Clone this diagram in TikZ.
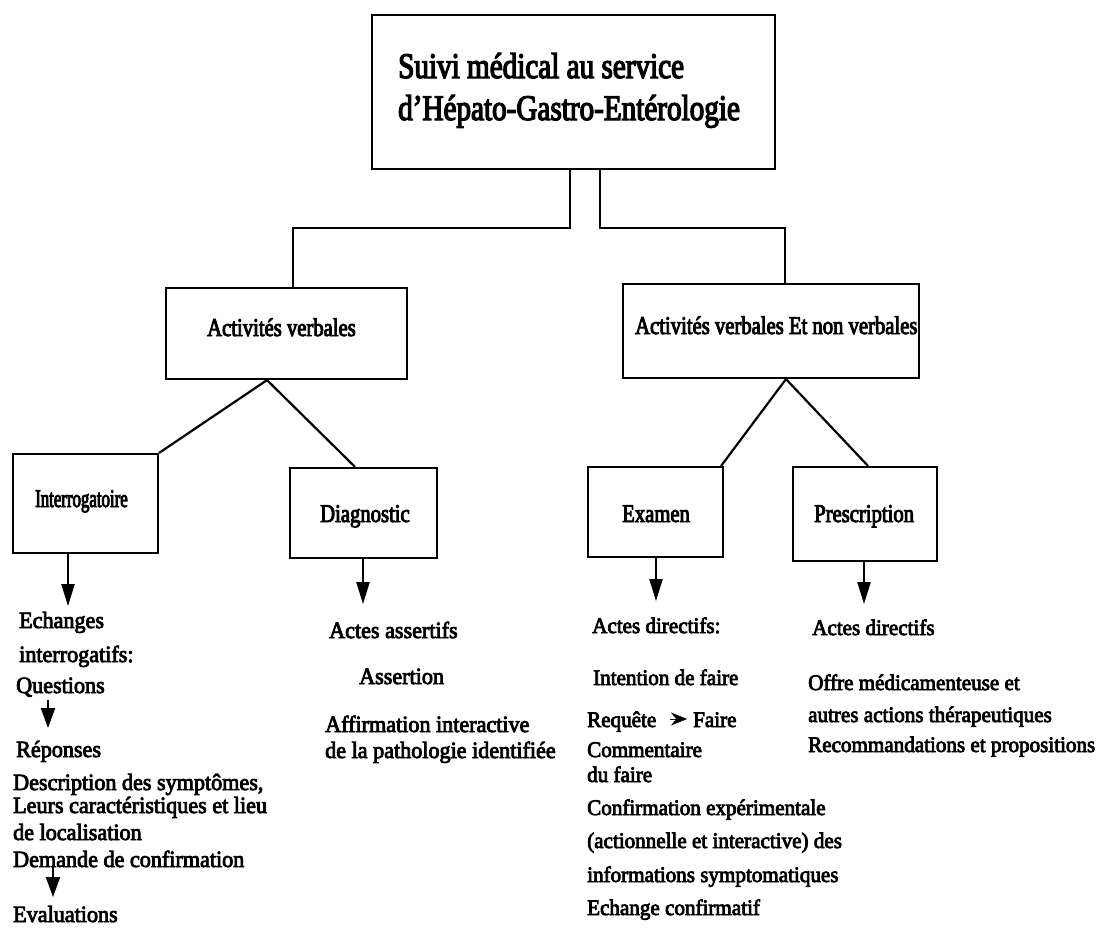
\documentclass[tikz,border=0pt]{standalone}
\usepackage{fontspec}
\setmainfont{Liberation Serif}
\newfontfamily\bodyfont[FakeStretch=0.95,FakeBold=3.5]{Liberation Serif}
\newfontfamily\boxfont[FakeStretch=0.81,FakeBold=3.5]{Liberation Serif}
\newfontfamily\tightfont[FakeStretch=0.66,FakeBold=3.5]{Liberation Serif}
\usetikzlibrary{arrows.meta,calc}

\begin{document}
\begin{tikzpicture}[x=1pt,y=-1pt,
  box/.style={draw, line width=2.2pt, inner sep=0pt},
  txt/.style={anchor=base west, inner sep=0pt, font=\bodyfont\fontsize{23.3}{27}\selectfont},
  txtr/.style={txt, font=\bodyfont\fontsize{22.2}{26}\selectfont},
  boxlabel/.style={anchor=base west, inner sep=0pt, font=\boxfont\fontsize{25.5}{30}\selectfont},
  titletext/.style={anchor=base west, inner sep=0pt, font=\boxfont\fontsize{36}{42}\selectfont},
  link/.style={line width=2.2pt},
  down/.style={line width=2.2pt, -{Triangle[width=13pt,length=22pt]}},
  smalldown/.style={line width=2.2pt, -{Triangle[width=14pt,length=20pt]}}]
\useasboundingbox (0,0) rectangle (1112,929);

% ---- boxes ----
\node[box, minimum width=403pt, minimum height=154pt] (root)  at (573.5,92)  {};
\node[box, minimum width=241pt, minimum height=91pt]  (av)    at (286.5,333.5) {};
\node[box, minimum width=296pt, minimum height=94pt]  (avnv)  at (771,331)   {};
\node[box, minimum width=145pt, minimum height=99pt]  (interr) at (85.5,503.5) {};
\node[box, minimum width=147pt, minimum height=90pt]  (diag)  at (363.5,513) {};
\node[box, minimum width=135pt, minimum height=90pt]  (exam)  at (655.5,512) {};
\node[box, minimum width=144pt, minimum height=94pt]  (presc) at (865,514)   {};

% ---- box labels ----
\node[titletext] (t1) at (398,78)  {Suivi médical au service};
\node[titletext] (t2) at (398,120) {d’Hépato-Gastro-Entérologie};
\node[boxlabel] (avl)   at (207,336) {Activités verbales};
\node[boxlabel] (avnvl) at (635,334) {Activités verbales Et non verbales};
\node[boxlabel, font=\tightfont\fontsize{25.5}{30}\selectfont] (interrl) at (35,507) {Interrogatoire};
\node[boxlabel] (diagl)  at (320,522) {Diagnostic};
\node[boxlabel] (examl)  at (622,522) {Examen};
\node[boxlabel] (prescl) at (814,522) {Prescription};

% ---- tree connectors ----
\draw[link] ([xshift=-3.5pt]root.south) -- ++(0,58) -| ([xshift=6.5pt]av.north);
\draw[link] ([xshift=26.5pt]root.south) -- ++(0,58) -| ([xshift=14pt]avnv.north);
\draw[link] ([xshift=-19.5pt]av.south) -- (interr.north east);
\draw[link] ([xshift=-19.5pt]av.south) -- ([xshift=-8.5pt]diag.north);
\draw[link] ([xshift=15pt]avnv.south) -- ([xshift=-3pt]exam.north east);
\draw[link] ([xshift=15pt]avnv.south) -- ([xshift=3pt]presc.north);

\draw[down] ([xshift=-17.5pt]interr.south) -- ++(0,52);
\draw[down] ([xshift=-0.5pt]diag.south) -- ++(0,45);
\draw[down] ([xshift=0.5pt]exam.south) -- ++(0,43);
\draw[down] ([xshift=-1pt]presc.south) -- ++(0,42);

% ---- interrogatoire column ----
\node[txt] (ech)  at (19,628) {Echanges};
\node[txt] (inter) at (19,662) {interrogatifs:};
\node[txt] (ques) at (16,693) {Questions};
\node[txt] (rep)  at (16,757) {Réponses};
\node[txt] (desc) at (13,790) {Description des symptômes,};
\node[txt] (leur) at (13,813) {Leurs caractéristiques et lieu};
\node[txt] (loc)  at (13,840) {de localisation};
\node[txt] (dem)  at (13,867) {Demande de confirmation};
\node[txt] (eval) at (13,922) {Evaluations};
\draw[smalldown] ($(ques.base west)+(32,7)$) -- ($(rep.base west)+(32,-29)$);
\draw[smalldown] ($(dem.base west)+(40,-2)$) -- ($(eval.base west)+(40,-25)$);

% ---- diagnostic column ----
\node[txt] (ass)  at (329,638) {Actes assertifs};
\node[txt] (asn)  at (359,684) {Assertion};
\node[txt] (aff)  at (325,732) {Affirmation interactive};
\node[txt] (path) at (325,758) {de la pathologie identifiée};

% ---- examen column ----
\node[txtr] (dir1) at (592,633) {Actes directifs:};
\node[txtr] (int)  at (593,685) {Intention de faire};
\node[txtr] (req)  at (587,727) {Requête};
\node[txtr] (fai)  at (693,727) {Faire};
\node[txtr] (com)  at (587,757) {Commentaire};
\node[txtr] (duf)  at (587,782) {du faire};
\node[txtr] (conf) at (587,815) {Confirmation expérimentale};
\node[txtr] (act)  at (587,848) {(actionnelle et interactive) des};
\node[txtr] (info) at (587,882) {informations symptomatiques};
\node[txtr] (echc) at (587,915) {Echange confirmatif};
\draw[line width=0.5pt, -{Stealth[width=13pt,length=16pt]}]
  ($(fai.base west)+(-23,-8)$) -- ($(fai.base west)+(-6,-8)$);

% ---- prescription column ----
\node[txtr] (dir2) at (812,635) {Actes directifs};
\node[txtr] (off)  at (808,690) {Offre médicamenteuse et};
\node[txtr] (aut)  at (808,722) {autres actions thérapeutiques};
\node[txtr] (rec)  at (808,752) {Recommandations et propositions};
\end{tikzpicture}
\end{document}
